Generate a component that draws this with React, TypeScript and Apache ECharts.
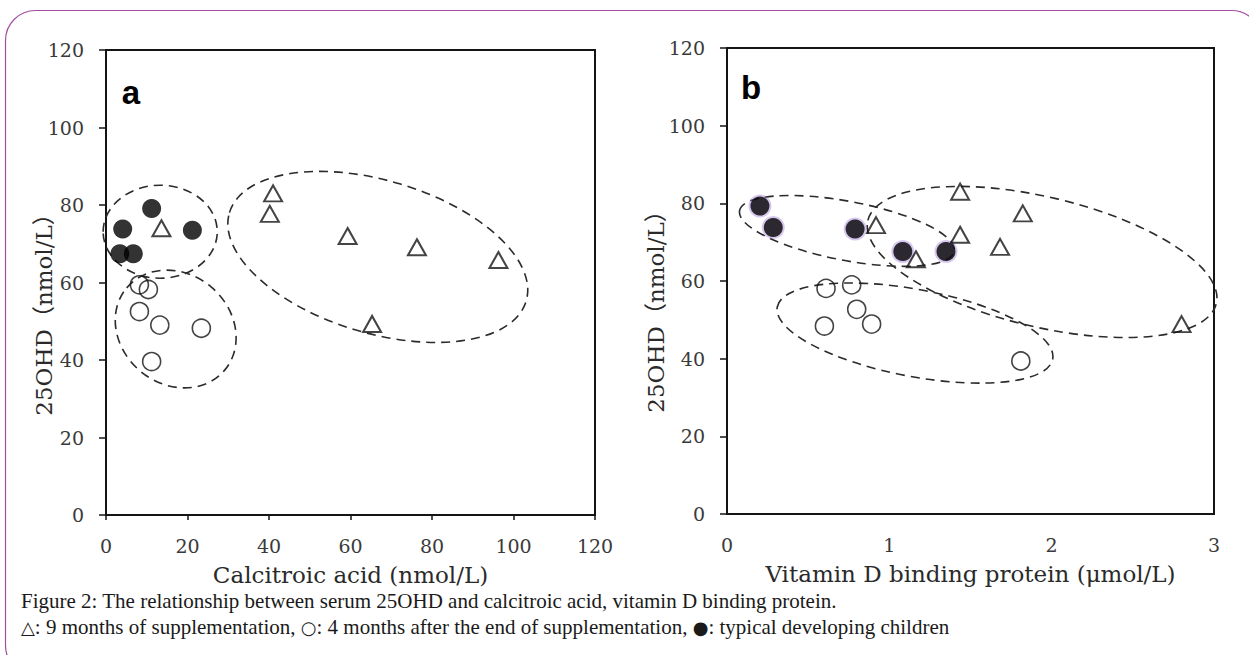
import React, { useEffect, useRef } from "react";
import * as echarts from "echarts";

// ---------- tick labels ----------
const xTicksA = [0, 20, 40, 60, 80, 100, 120];
const xTicksB = [0, 1, 2, 3];
const yTicks = [0, 20, 40, 60, 80, 100, 120];

// ---------- panel a : calcitroic acid vs 25OHD ----------
const aTriangleX = [13.6, 41.0, 40.2, 59.3, 76.3, 96.3, 65.3];
const aTriangleY = [74.0, 83.0, 77.7, 72.0, 69.1, 65.8, 49.3];
const aOpenX = [8.2, 10.4, 8.2, 13.2, 23.4, 11.2];
const aOpenY = [59.4, 58.2, 52.5, 49.0, 48.2, 39.6];
const aFilledX = [11.2, 4.1, 21.2, 3.4, 6.7];
const aFilledY = [79.1, 73.8, 73.5, 67.4, 67.4];
// dashed group ellipses: [centre x, centre y, radius x, radius y, tilt deg clockwise]
const aEllipses = [
  [13.3, 73.1, 14.0, 12.0, 0],
  [17.1, 48.0, 15.7, 14.2, 40],
  [66.7, 66.6, 38.0, 19.7, 16.6],
];

// ---------- panel b : vitamin D binding protein vs 25OHD ----------
const bTriangleX = [0.918, 1.164, 1.436, 1.822, 1.436, 1.682, 2.8];
const bTriangleY = [74.4, 65.6, 83.0, 77.4, 71.9, 68.8, 48.9];
const bOpenX = [0.61, 0.768, 0.799, 0.891, 0.6, 1.81];
const bOpenY = [58.1, 59.0, 52.7, 48.9, 48.4, 39.4];
const bFilledX = [0.203, 0.285, 0.789, 1.083, 1.349];
const bFilledY = [79.3, 73.8, 73.4, 67.6, 67.6];
const bEllipses = [
  [0.739, 72.9, 0.673, 7.6, 10.7],
  [1.941, 64.9, 1.103, 16.7, 13.4],
  [1.158, 46.6, 0.863, 11.2, 10.7],
];

const xNameA = "Calcitroic acid (nmol/L)";
const xNameB = "Vitamin D binding protein (μmol/L)";
const yName = "25OHD（nmol/L）";
const caption1 =
  "Figure 2: The relationship between serum 25OHD and calcitroic acid, vitamin D binding protein.";
const caption2 =
  "{s|△}: 9 months of supplementation, {s|○}: 4 months after the end of supplementation, {s|●}: typical developing children";

const SERIF = "'DejaVu Serif', 'Noto Sans CJK JP', serif";
const LABEL_COLOR = "#3a3a3a";
const AXIS_COLOR = "#141414";

const zip = (xs: number[], ys: number[]) => xs.map((x, i) => [x, ys[i]]);

const renderEllipse = (_params: any, api: any) => {
  const c = api.coord([api.value(0), api.value(1)]);
  const rx = Math.abs(api.size([api.value(2), 0])[0]);
  const ry = Math.abs(api.size([0, api.value(3)])[1]);
  return {
    type: "ellipse",
    x: c[0],
    y: c[1],
    rotation: (-api.value(4) * Math.PI) / 180,
    shape: { cx: 0, cy: 0, rx, ry },
    style: { fill: "none", stroke: "#2b2b2b", lineWidth: 1.6, lineDash: [9, 6] },
    silent: true,
  };
};

const makeXAxis = (ticks: number[], grid: number, name: string, showTicks: boolean) => ({
  type: "value",
  gridIndex: grid,
  min: ticks[0],
  max: ticks[ticks.length - 1],
  interval: ticks[1] - ticks[0],
  name,
  nameLocation: "middle",
  nameGap: 48,
  nameTextStyle: { fontFamily: SERIF, fontSize: 23, color: "#2a2a2a" },
  axisLine: { show: true, onZero: false, lineStyle: { color: AXIS_COLOR, width: 2 } },
  axisTick: { show: showTicks, length: 5, lineStyle: { color: AXIS_COLOR, width: 1.5 } },
  axisLabel: { margin: 21, fontFamily: SERIF, fontSize: 19, color: LABEL_COLOR },
  splitLine: { show: false },
});

const makeYAxis = (grid: number) => ({
  type: "value",
  gridIndex: grid,
  min: yTicks[0],
  max: yTicks[yTicks.length - 1],
  interval: yTicks[1] - yTicks[0],
  axisLine: { show: true, onZero: false, lineStyle: { color: AXIS_COLOR, width: 2 } },
  axisTick: { show: true, length: 7, lineStyle: { color: AXIS_COLOR, width: 1.5 } },
  axisLabel: { margin: 22, fontFamily: SERIF, fontSize: 19, color: LABEL_COLOR },
  splitLine: { show: false },
});

const scatterSeries = (
  grid: number,
  data: number[][],
  kind: "filled" | "open" | "triangle" | "halo"
) => {
  const base: any = {
    type: "scatter",
    xAxisIndex: grid,
    yAxisIndex: grid,
    data,
    silent: true,
    z: 3,
  };
  if (kind === "filled") {
    base.symbol = "circle";
    base.symbolSize = 19;
    base.z = 4;
    base.itemStyle = { color: "#000000" };
  } else if (kind === "halo") {
    base.symbol = "circle";
    base.symbolSize = 23;
    base.itemStyle = { color: "rgba(140,100,210,0.45)" };
  } else if (kind === "open") {
    base.symbol = "circle";
    base.symbolSize = 18;
    base.itemStyle = { color: "rgba(255,255,255,0)", borderColor: "#151515", borderWidth: 1.6 };
  } else {
    base.symbol = "triangle";
    base.symbolSize = [18, 16];
    base.z = 5;
    base.itemStyle = { color: "rgba(255,255,255,0)", borderColor: "#151515", borderWidth: 2 };
  }
  return base;
};

export default function App() {
  const ref = useRef<HTMLDivElement>(null);

  useEffect(() => {
    if (!ref.current) return;
    const chart = echarts.init(ref.current, undefined, { renderer: "svg" });
    const option: any = {
      animation: false,
      backgroundColor: "#ffffff",
      grid: [
        { left: 106, top: 50, width: 489, height: 465, show: true, borderColor: AXIS_COLOR, borderWidth: 2, backgroundColor: "transparent" },
        { left: 727, top: 48, width: 487, height: 466, show: true, borderColor: AXIS_COLOR, borderWidth: 2, backgroundColor: "transparent" },
      ],
      xAxis: [makeXAxis(xTicksA, 0, xNameA, true), makeXAxis(xTicksB, 1, xNameB, false)],
      yAxis: [makeYAxis(0), makeYAxis(1)],
      series: [
        { type: "custom", xAxisIndex: 0, yAxisIndex: 0, data: aEllipses, renderItem: renderEllipse, encode: { x: 0, y: 1 }, z: 2, silent: true },
        { type: "custom", xAxisIndex: 1, yAxisIndex: 1, data: bEllipses, renderItem: renderEllipse, encode: { x: 0, y: 1 }, z: 2, silent: true },
        scatterSeries(0, zip(aFilledX, aFilledY), "filled"),
        scatterSeries(0, zip(aOpenX, aOpenY), "open"),
        scatterSeries(0, zip(aTriangleX, aTriangleY), "triangle"),
        scatterSeries(1, zip(bFilledX, bFilledY), "halo"),
        scatterSeries(1, zip(bFilledX, bFilledY), "filled"),
        scatterSeries(1, zip(bOpenX, bOpenY), "open"),
        scatterSeries(1, zip(bTriangleX, bTriangleY), "triangle"),
      ],
      graphic: [
        {
          type: "rect",
          shape: { x: 5.5, y: 10.5, width: 1256, height: 665, r: 30 },
          style: { fill: "none", stroke: "#a24e9f", lineWidth: 1.2 },
          silent: true,
        },
        {
          type: "text",
          x: 131,
          y: 92,
          style: { text: "a", fontFamily: "'Liberation Sans', Arial, sans-serif", fontWeight: "bold", fontSize: 33, fill: "#000", align: "center", verticalAlign: "middle", textAlign: "center", textVerticalAlign: "middle" },
        },
        {
          type: "text",
          x: 751,
          y: 87,
          style: { text: "b", fontFamily: "'Liberation Sans', Arial, sans-serif", fontWeight: "bold", fontSize: 33, fill: "#000", align: "center", verticalAlign: "middle", textAlign: "center", textVerticalAlign: "middle" },
        },
        {
          type: "text",
          x: 44,
          y: 309,
          rotation: Math.PI / 2,
          style: { text: yName, fontFamily: SERIF, fontSize: 23, fill: "#2a2a2a", align: "center", verticalAlign: "middle", textAlign: "center", textVerticalAlign: "middle" },
        },
        {
          type: "text",
          x: 656,
          y: 306,
          rotation: Math.PI / 2,
          style: { text: yName, fontFamily: SERIF, fontSize: 23, fill: "#2a2a2a", align: "center", verticalAlign: "middle", textAlign: "center", textVerticalAlign: "middle" },
        },
        {
          type: "text",
          x: 21,
          y: 601,
          style: { text: caption1, fontFamily: "'Liberation Serif', serif", fontSize: 21, lineHeight: 20, fill: "#1a1a1a", align: "left", verticalAlign: "middle", textAlign: "left", textVerticalAlign: "middle" },
        },
        {
          type: "text",
          x: 21,
          y: 627,
          style: {
            text: caption2,
            fontFamily: "'Liberation Serif', serif",
            fontSize: 21,
            lineHeight: 20,
            fill: "#1a1a1a",
            align: "left",
            verticalAlign: "middle",
            textAlign: "left",
            textVerticalAlign: "middle",
            rich: {
              s: { fontFamily: "'DejaVu Sans', sans-serif", fontSize: 18, lineHeight: 20, fill: "#1a1a1a" },
            },
          },
        },
      ],
    };
    chart.setOption(option);
    return () => chart.dispose();
  }, []);

  return (
    <div
      ref={ref}
      style={{ position: "absolute", left: 0, top: 0, width: 1249, height: 655, background: "#fff" }}
    />
  );
}
